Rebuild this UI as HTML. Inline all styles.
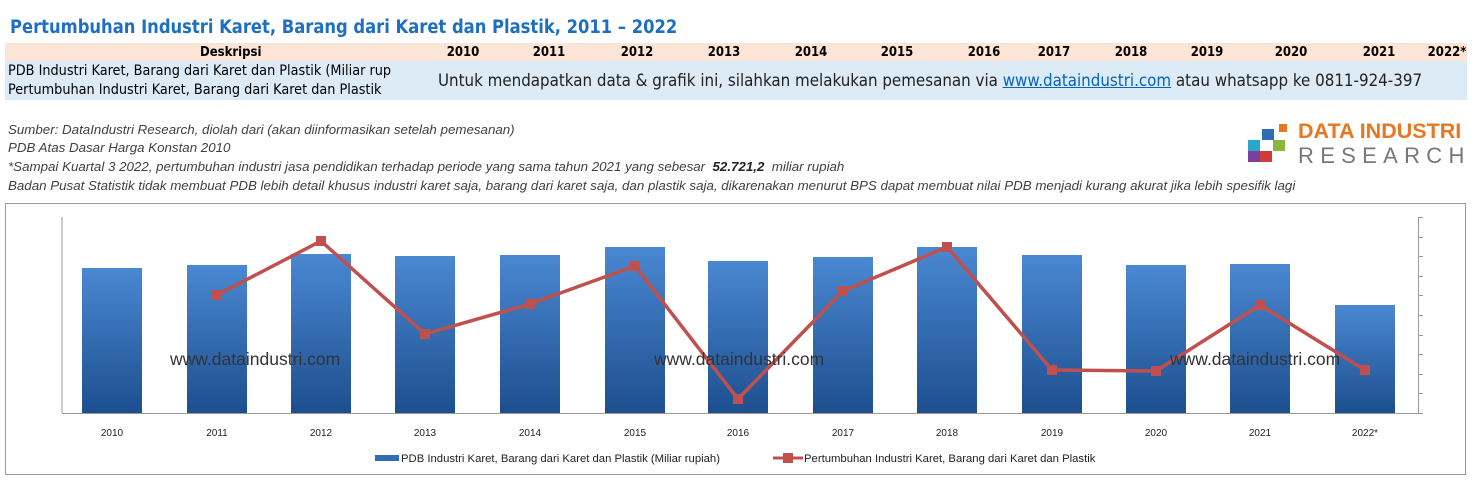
<!DOCTYPE html>
<html><head><meta charset="utf-8"><style>
body{margin:0;width:1475px;height:495px;background:#fff;font-family:"Liberation Sans",sans-serif;position:relative;overflow:hidden}
.a{position:absolute;white-space:nowrap}
.t{font-family:"DejaVu Sans Condensed","Liberation Sans Narrow","Liberation Sans",sans-serif}
.n{font-size:13px;font-style:italic;color:#404040;transform-origin:0 0;transform:scaleX(1.025)}
.y{font-weight:bold;font-size:13px;top:45px;transform:translateX(-50%)}
</style></head><body>
<div class="a t" style="left:10px;top:17px;font-size:18.2px;font-weight:bold;color:#1f6fc0">Pertumbuhan Industri Karet, Barang dari Karet dan Plastik, 2011 – 2022</div>
<div class="a" style="left:5px;top:43px;width:1462px;height:18px;background:#fce4d6"></div>
<div class="a" style="left:5px;top:61px;width:1462px;height:39px;background:#ddebf7"></div>
<div class="a t" style="left:200px;top:45px;font-size:13px;font-weight:bold">Deskripsi</div>
<div class="a t y" style="left:463px">2010</div><div class="a t y" style="left:549px">2011</div><div class="a t y" style="left:637px">2012</div><div class="a t y" style="left:724px">2013</div><div class="a t y" style="left:811px">2014</div><div class="a t y" style="left:897px">2015</div><div class="a t y" style="left:984px">2016</div><div class="a t y" style="left:1054px">2017</div><div class="a t y" style="left:1131px">2018</div><div class="a t y" style="left:1207px">2019</div><div class="a t y" style="left:1291px">2020</div><div class="a t y" style="left:1379px">2021</div><div class="a t y" style="left:1447px">2022*</div>
<div class="a t" style="left:8px;top:63px;font-size:14.3px">PDB Industri Karet, Barang dari Karet dan Plastik (Miliar rup</div>
<div class="a t" style="left:8px;top:82px;font-size:14.3px">Pertumbuhan Industri Karet, Barang dari Karet dan Plastik</div>
<div class="a t" style="left:438px;top:70px;font-size:16.8px;color:#222">Untuk mendapatkan data &amp; grafik ini, silahkan melakukan pemesanan via <span style="color:#0563c1;text-decoration:underline">www.dataindustri.com</span> atau whatsapp ke 0811-924-397</div>
<div class="a n" style="left:8px;top:122px">Sumber: DataIndustri Research, diolah dari (akan diinformasikan setelah pemesanan)</div>
<div class="a n" style="left:8px;top:140px">PDB Atas Dasar Harga Konstan 2010</div>
<div class="a n" style="left:8px;top:159px">*Sampai Kuartal 3 2022, pertumbuhan industri jasa pendidikan terhadap periode yang sama tahun 2021 yang sebesar &nbsp;<b style="color:#222">52.721,2</b>&nbsp; miliar rupiah</div>
<div class="a n" style="left:8px;top:178px">Badan Pusat Statistik tidak membuat PDB lebih detail khusus industri karet saja, barang dari karet saja, dan plastik saja, dikarenakan menurut BPS dapat membuat nilai PDB menjadi kurang akurat jika lebih spesifik lagi</div>
<div class="a" style="left:1279px;top:124px;width:8px;height:8px;background:#e87722"></div>
<div class="a" style="left:1262px;top:129px;width:12px;height:11px;background:#2e6db4"></div>
<div class="a" style="left:1248px;top:140px;width:12px;height:11px;background:#2aa6c8"></div>
<div class="a" style="left:1273px;top:140px;width:12px;height:11px;background:#8ab83a"></div>
<div class="a" style="left:1248px;top:151px;width:12px;height:11px;background:#7b3fa0"></div>
<div class="a" style="left:1260px;top:151px;width:12px;height:11px;background:#d23a3a"></div>
<div class="a" style="left:1298px;top:119px;font-size:21.5px;font-weight:bold;color:#e87722">DATA INDUSTRI</div>
<div class="a" style="left:1298px;top:143px;font-size:22px;color:#777;letter-spacing:6.3px">RESEARCH</div>
<svg class="a" style="left:0;top:0" width="1475" height="495">
<defs><linearGradient id="g" x1="0" y1="0" x2="0" y2="1"><stop offset="0" stop-color="#4a88d2"/><stop offset="1" stop-color="#1d4f8f"/></linearGradient></defs>
<rect x="5.5" y="203.5" width="1460" height="271" fill="#fff" stroke="#999"/>
<line x1="62" y1="217" x2="62" y2="413" stroke="#999"/>
<line x1="62" y1="413.5" x2="1418" y2="413.5" stroke="#999"/>
<line x1="1418.5" y1="217" x2="1418.5" y2="413" stroke="#999"/>
<g stroke="#999">
<line x1="1418" y1="217.5" x2="1423" y2="217.5"/><line x1="1418" y1="237.5" x2="1423" y2="237.5"/><line x1="1418" y1="256.5" x2="1423" y2="256.5"/><line x1="1418" y1="276.5" x2="1423" y2="276.5"/><line x1="1418" y1="295.5" x2="1423" y2="295.5"/><line x1="1418" y1="315.5" x2="1423" y2="315.5"/><line x1="1418" y1="335.5" x2="1423" y2="335.5"/><line x1="1418" y1="354.5" x2="1423" y2="354.5"/><line x1="1418" y1="374.5" x2="1423" y2="374.5"/><line x1="1418" y1="393.5" x2="1423" y2="393.5"/><line x1="1418" y1="413.5" x2="1423" y2="413.5"/>
</g>
<g fill="url(#g)">
<rect x="82" y="268" width="60" height="145"/><rect x="187" y="265" width="60" height="148"/><rect x="291" y="254" width="60" height="159"/><rect x="395" y="256" width="60" height="157"/><rect x="500" y="255" width="60" height="158"/><rect x="605" y="247" width="60" height="166"/><rect x="708" y="261" width="60" height="152"/><rect x="813" y="257" width="60" height="156"/><rect x="917" y="247" width="60" height="166"/><rect x="1022" y="255" width="60" height="158"/><rect x="1126" y="265" width="60" height="148"/><rect x="1230" y="264" width="60" height="149"/><rect x="1335" y="305" width="60" height="108"/>
</g>
<polyline fill="none" stroke="#c0504d" stroke-width="3.5" stroke-linejoin="round" points="217,295 321,241 425,334 530,304 635,266 738,399 843,291 947,247 1052,370 1156,371 1260,305 1365,370"/>
<g fill="#c0504d">
<rect x="212" y="290" width="10" height="10"/><rect x="316" y="236" width="10" height="10"/><rect x="420" y="329" width="10" height="10"/><rect x="525" y="299" width="10" height="10"/><rect x="630" y="261" width="10" height="10"/><rect x="733" y="394" width="10" height="10"/><rect x="838" y="286" width="10" height="10"/><rect x="942" y="242" width="10" height="10"/><rect x="1047" y="365" width="10" height="10"/><rect x="1151" y="366" width="10" height="10"/><rect x="1255" y="300" width="10" height="10"/><rect x="1360" y="365" width="10" height="10"/>
</g>
<g font-family="Liberation Sans" font-size="17.5" fill="#333">
<text x="170" y="365">www.dataindustri.com</text><text x="654" y="365">www.dataindustri.com</text><text x="1170" y="365">www.dataindustri.com</text>
</g>
<g font-family="Liberation Sans" font-size="10" fill="#222" text-anchor="middle">
<text x="112" y="436">2010</text><text x="217" y="436">2011</text><text x="321" y="436">2012</text><text x="425" y="436">2013</text><text x="530" y="436">2014</text><text x="635" y="436">2015</text><text x="738" y="436">2016</text><text x="843" y="436">2017</text><text x="947" y="436">2018</text><text x="1052" y="436">2019</text><text x="1156" y="436">2020</text><text x="1260" y="436">2021</text><text x="1365" y="436">2022*</text>
</g>
<rect x="375" y="455" width="24" height="6" fill="#2e6cb8"/>
<text x="401" y="462" font-family="Liberation Sans" font-size="11.3" fill="#222">PDB Industri Karet, Barang dari Karet dan Plastik (Miliar rupiah)</text>
<line x1="773" y1="458" x2="803" y2="458" stroke="#c0504d" stroke-width="3"/>
<rect x="783" y="453" width="10" height="10" fill="#c0504d"/>
<text x="804" y="462" font-family="Liberation Sans" font-size="11.3" fill="#222">Pertumbuhan Industri Karet, Barang dari Karet dan Plastik</text>
</svg>
</body></html>
